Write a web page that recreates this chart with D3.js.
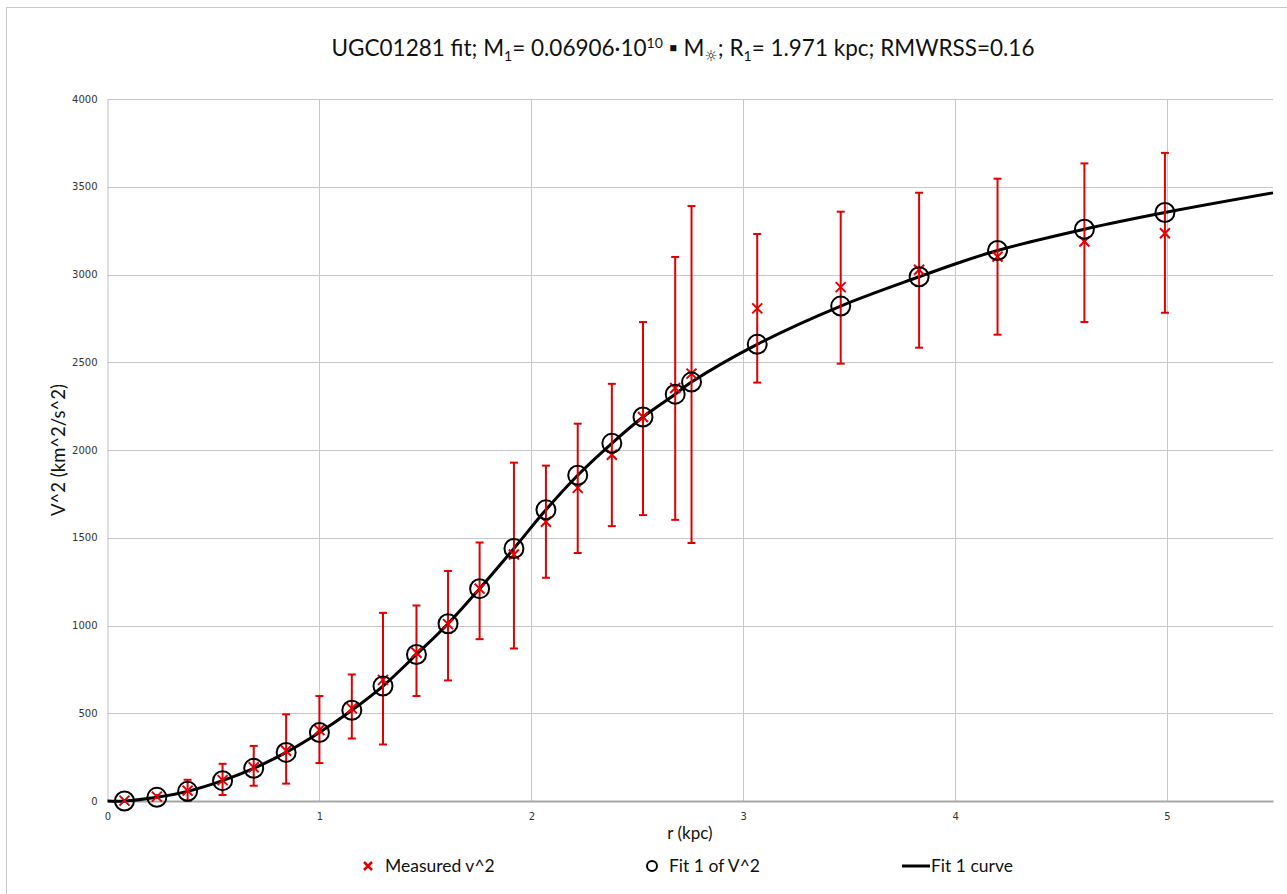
<!DOCTYPE html>
<html lang="en">
<head>
  <meta charset="UTF-8">
  <title>UGC01281 fit</title>
  <script src="https://d3js.org/d3.v7.min.js"></script>
  <style>
    body { margin: 0; background: #fff; }
    svg { display: block; }
    .tick text { font-family: "DejaVu Sans", Verdana, sans-serif; font-size: 10px; fill: #333; }
    .title, .axis-title, .legend text { font-family: Lato, "Open Sans", sans-serif; fill: #111; }
  </style>
</head>
<body>
  <svg id="chart" width="1287" height="894"></svg>
  <script>
    // radius (kpc)
    const radius = [0.08, 0.233, 0.378, 0.543, 0.69, 0.843, 1.0, 1.153, 1.30, 1.458, 1.607, 1.756,
                    1.918, 2.069, 2.219, 2.38, 2.527, 2.679, 2.756, 3.066, 3.46, 3.83, 4.2, 4.61, 4.99];
    // measured v^2 with error bar bounds
    const measured = [2, 25, 59, 119, 192, 286, 405, 528, 690, 845, 1008, 1210,
                      1405, 1591, 1784, 1973, 2188, 2353, 2435, 2807, 2928, 3027, 3102, 3188, 3235];
    const errLow = [0, 12, 0, 34, 87, 99, 216, 356, 322, 598, 687, 922,
                    869, 1272, 1413, 1566, 1629, 1602, 1470, 2384, 2492, 2583, 2657, 2729, 2782];
    const errHigh = [8, 40, 121, 212, 314, 494, 598, 721, 1072, 1114, 1311, 1473,
                     1928, 1911, 2150, 2377, 2729, 3100, 3390, 3231, 3358, 3466, 3546, 3633, 3693];
    // fit values at the same radii
    const fitV2 = [0, 21, 55, 116, 186, 277, 390, 517, 655, 835, 1010, 1210,
                   1439, 1659, 1856, 2038, 2188, 2318, 2387, 2602, 2820, 2987, 3137, 3258, 3353];
    // fit curve (ends at the plot edge)
    const curveR = [0, 0.08, 0.233, 0.378, 0.543, 0.69, 0.843, 1.0, 1.153, 1.30, 1.458, 1.607, 1.756,
                    1.918, 2.069, 2.219, 2.38, 2.527, 2.679, 2.756, 3.066, 3.46, 3.83, 4.0, 4.2, 4.61, 4.99, 5.5];
    const curveV = [0, 0, 21, 55, 116, 186, 277, 390, 517, 655, 835, 1010, 1210,
                    1439, 1659, 1856, 2038, 2188, 2318, 2387, 2602, 2820, 2987, 3060, 3137, 3258, 3353, 3465];

    const xTicks = [0, 1, 2, 3, 4, 5];
    const yTicks = [0, 500, 1000, 1500, 2000, 2500, 3000, 3500, 4000];

    const svg = d3.select("#chart");
    const margin = { left: 107.5, right: 1273, top: 99, bottom: 801 };
    const red = "#e00000";

    const x = d3.scaleLinear().domain([0, 5.5]).range([margin.left, margin.right]);
    const y = d3.scaleLinear().domain([0, 4000]).range([margin.bottom, margin.top]);

    // outer chart border
    svg.append("rect")
      .attr("x", 6.5).attr("y", 7.5)
      .attr("width", 1300).attr("height", 900)
      .attr("fill", "none").attr("stroke", "#c8c8c8").attr("stroke-width", 1);

    // grid lines
    svg.append("g").selectAll("line").data(yTicks.slice(1)).enter().append("line")
      .attr("x1", margin.left).attr("x2", margin.right)
      .attr("y1", d => Math.round(y(d)) + 0.5).attr("y2", d => Math.round(y(d)) + 0.5)
      .attr("stroke", "#c8c8c8").attr("stroke-width", 1);
    svg.append("g").selectAll("line").data(xTicks.slice(1)).enter().append("line")
      .attr("x1", d => Math.round(x(d)) + 0.5).attr("x2", d => Math.round(x(d)) + 0.5)
      .attr("y1", margin.top).attr("y2", margin.bottom)
      .attr("stroke", "#c8c8c8").attr("stroke-width", 1);

    // axes
    const xAxis = svg.append("g")
      .attr("transform", `translate(0,${margin.bottom})`)
      .call(d3.axisBottom(x).tickValues(xTicks).tickSize(0).tickPadding(12).tickFormat(d3.format("d")));
    xAxis.select(".domain").attr("stroke", "#a6a6a6").attr("stroke-width", 2);

    const yAxis = svg.append("g")
      .attr("transform", `translate(${margin.left},0)`)
      .call(d3.axisLeft(y).tickValues(yTicks).tickSize(0).tickPadding(10).tickFormat(d3.format("d")));
    yAxis.select(".domain").attr("stroke", "#bfbfbf").attr("stroke-width", 1);

    // fit curve
    svg.append("path")
      .datum(curveR.map((r, i) => [r, curveV[i]]))
      .attr("fill", "none")
      .attr("stroke", "#000")
      .attr("stroke-width", 3)
      .attr("d", d3.line().x(d => x(d[0])).y(d => y(d[1])).curve(d3.curveCatmullRom));

    const pts = radius.map((r, i) => ({ r, m: measured[i], lo: errLow[i], hi: errHigh[i], f: fitV2[i] }));

    // error bars
    const eb = svg.append("g").attr("stroke", red).attr("stroke-width", 2);
    pts.forEach(p => {
      const cx = x(p.r);
      eb.append("line").attr("x1", cx).attr("x2", cx).attr("y1", y(p.lo)).attr("y2", y(p.hi));
      if (p.hi - p.lo > 60) {
        eb.append("line").attr("x1", cx - 4).attr("x2", cx + 4).attr("y1", y(p.lo)).attr("y2", y(p.lo));
        eb.append("line").attr("x1", cx - 4).attr("x2", cx + 4).attr("y1", y(p.hi)).attr("y2", y(p.hi));
      }
    });

    // measured markers (x)
    const s = 5;
    svg.append("g").selectAll("path").data(pts).enter().append("path")
      .attr("d", p => {
        const cx = x(p.r), cy = y(p.m);
        return `M${cx - s},${cy - s}L${cx + s},${cy + s}M${cx - s},${cy + s}L${cx + s},${cy - s}`;
      })
      .attr("stroke", red).attr("stroke-width", 2).attr("fill", "none");

    // fit markers (circles)
    svg.append("g").selectAll("circle").data(pts).enter().append("circle")
      .attr("cx", p => x(p.r)).attr("cy", p => y(p.f)).attr("r", 9.5)
      .attr("fill", "none").attr("stroke", "#000").attr("stroke-width", 2);

    // title
    const title = svg.append("text").attr("class", "title")
      .attr("x", 683).attr("y", 56).attr("text-anchor", "middle").style("font-size", "22.5px");
    title.append("tspan").text("UGC01281 fit; M");
    title.append("tspan").text("1").attr("dy", 5).style("font-size", "14px");
    title.append("tspan").text("= 0.06906·10").attr("dy", -5);
    title.append("tspan").text("10").attr("dy", -8).style("font-size", "14px");
    title.append("tspan").text(" ▪ M").attr("dy", 8);
    title.append("tspan").text("☼").attr("dy", 5).style("font-size", "15px").style("font-family", "DejaVu Sans");
    title.append("tspan").text("; R").attr("dy", -5);
    title.append("tspan").text("1").attr("dy", 5).style("font-size", "14px");
    title.append("tspan").text("= 1.971 kpc; RMWRSS=0.16").attr("dy", -5);

    // axis titles
    svg.append("text").attr("class", "axis-title")
      .attr("x", 690).attr("y", 839).attr("text-anchor", "middle")
      .style("font-size", "17px").text("r (kpc)");
    svg.append("text").attr("class", "axis-title")
      .attr("transform", "translate(65,450) rotate(-90)").attr("text-anchor", "middle")
      .style("font-size", "18.5px").text("V^2 (km^2/s^2)");

    // legend
    const lg = svg.append("g").attr("class", "legend");
    const ly = 866;
    lg.append("path")
      .attr("d", `M364,${ly - 4}L372,${ly + 4}M364,${ly + 4}L372,${ly - 4}`)
      .attr("stroke", red).attr("stroke-width", 2.5);
    lg.append("text").attr("x", 385).attr("y", ly + 6).style("font-size", "17.5px").text("Measured v^2");
    lg.append("circle").attr("cx", 652).attr("cy", ly).attr("r", 5)
      .attr("fill", "none").attr("stroke", "#000").attr("stroke-width", 2);
    lg.append("text").attr("x", 669).attr("y", ly + 6).style("font-size", "17.5px").text("Fit 1 of V^2");
    lg.append("line").attr("x1", 902).attr("x2", 930).attr("y1", ly).attr("y2", ly)
      .attr("stroke", "#000").attr("stroke-width", 3);
    lg.append("text").attr("x", 931).attr("y", ly + 6).style("font-size", "17.5px").text("Fit 1 curve");
  </script>
</body>
</html>
